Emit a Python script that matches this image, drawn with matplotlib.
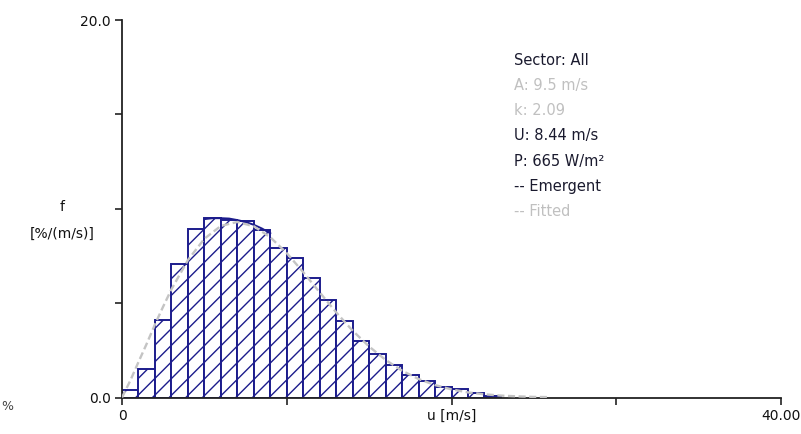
import matplotlib
matplotlib.use('Agg')
import matplotlib.pyplot as plt

# histogram of observed wind speeds, 1 m/s bins, f in %/(m/s)
bin_left = [0, 1, 2, 3, 4, 5, 6, 7, 8, 9, 10, 11, 12, 13, 14, 15, 16, 17, 18, 19, 20, 21, 22]
freq = [0.42, 1.53, 4.12, 7.09, 8.95, 9.51, 9.42, 9.36, 8.89, 7.93, 7.40, 6.35, 5.18, 4.04,
        2.97, 2.30, 1.72, 1.19, 0.88, 0.58, 0.44, 0.23, 0.10]

# fitted Weibull curve
fit_u = [0, 0.5, 1, 1.5, 2, 2.5, 3, 4, 5, 6, 7, 8, 9, 10, 11, 12, 13, 14, 15, 16, 17, 18, 19,
         20, 21, 22, 23, 24, 25, 26]
fit_f = [0.0, 0.89, 1.88, 2.85, 3.87, 4.82, 5.73, 7.28, 8.41, 9.09, 9.30, 9.07, 8.49, 7.65,
         6.64, 5.57, 4.51, 3.54, 2.70, 1.99, 1.42, 0.98, 0.66, 0.43, 0.27, 0.17, 0.10, 0.06,
         0.03, 0.02]

# emergent curve, visible only around the peak
emer_u = [5, 5.5, 6, 6.5, 7, 7.5, 8, 8.5, 9]
emer_f = [9.45, 9.5, 9.5, 9.48, 9.4, 9.3, 9.15, 8.95, 8.7]

legend_lines = [('Sector: All', '#1a1a2e'), ('A: 9.5 m/s', '#c0c0c0'), ('k: 2.09', '#c0c0c0'),
                ('U: 8.44 m/s', '#1a1a2e'), ('P: 665 W/m²', '#1a1a2e'),
                ('-- Emergent', '#1a1a2e'), ('-- Fitted', '#c0c0c0')]

navy = '#1c1c8c'
plt.rcParams['hatch.linewidth'] = 1.0

fig = plt.figure(figsize=(8.01, 4.34), dpi=100)
ax = fig.add_axes([122 / 801, 36.5 / 434, 659 / 801, 377.5 / 434])

ax.bar(bin_left, freq, width=1.0, align='edge', facecolor='white', edgecolor=navy,
       linewidth=1.4, hatch='//', zorder=2)
ax.plot(emer_u, emer_f, color=navy, lw=1.4, zorder=3)
ax.plot(fit_u, fit_f, color='#c4c4c4', lw=1.7, linestyle=(0, (3, 1.5)), zorder=4)

ax.set_xlim(0, 40)
ax.set_ylim(0, 20)
ax.set_xticks([0, 10, 20, 30, 40])
ax.set_xticklabels(['0', '', 'u [m/s]', '', '40.00'])
ax.set_yticks([0, 5, 10, 15, 20])
ax.set_yticklabels(['0.0', '', '', '', '20.0'])
for s in ['top', 'right']:
    ax.spines[s].set_visible(False)
for s in ['left', 'bottom']:
    ax.spines[s].set_color('#222222')
    ax.spines[s].set_linewidth(1.3)
ax.tick_params(direction='out', length=5, width=1.2, color='#222222', labelsize=10,
               labelcolor='#111111', pad=3)

fig.text(62 / 801, 1 - 207 / 434, 'f', ha='center', va='center', fontsize=10, color='#111111')
fig.text(62 / 801, 1 - 234 / 434, '[%/(m/s)]', ha='center', va='center', fontsize=10,
         color='#111111')
fig.text(1 / 801, 1 - 406 / 434, '%', ha='left', va='center', fontsize=9, color='#444444')

for i, (txt, col) in enumerate(legend_lines):
    fig.text(514 / 801, 1 - (60 + 25.3 * i) / 434, txt, ha='left', va='center', fontsize=10.5,
             color=col)

fig.savefig('out.png', dpi=100)
